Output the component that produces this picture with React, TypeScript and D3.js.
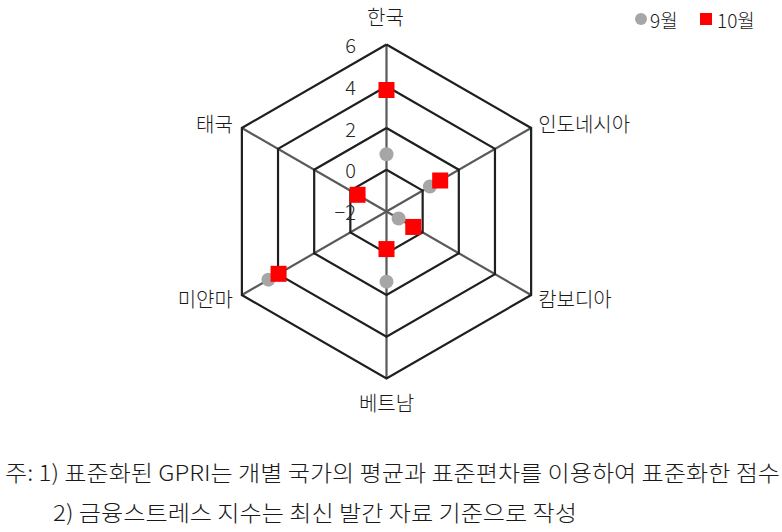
import * as d3 from 'd3';

// ─── Data ───────────────────────────────────────────────────
const countries = ['한국', '인도네시아', '캄보디아', '베트남', '미얀마', '태국'];
const sepValues = [0.74, 0.4, -1.33, 1.36, 4.53, -0.42];
const octValues = [3.82, 0.97, -0.52, -0.2, 3.97, -0.4];
const radialTicks = [-2, 0, 2, 4, 6];
const seriesNames = ['9월', '10월'];
const footnotes = [
  '주: 1) 표준화된 GPRI는 개별 국가의 평균과 표준편차를 이용하여 표준화한 점수',
  '2) 금융스트레스 지수는 최신 발간 자료 기준으로 작성',
];

// ─── Component ──────────────────────────────────────────────
export default function App() {
  const width = 782;
  const height = 532;
  const cx = 386.5;
  const cy = 211.5;
  const font = '"Noto Sans CJK KR", "Noto Sans", sans-serif';

  const r = d3.scaleLinear().domain([-2, 6]).range([0, 167]);
  const angle = d3.scaleLinear().domain([0, countries.length]).range([0, 2 * Math.PI]);

  const pt = (i: number, v: number): [number, number] => {
    const a = angle(i);
    return [cx + r(v) * Math.sin(a), cy - r(v) * Math.cos(a)];
  };

  const ringPath = (v: number) =>
    d3.line()(countries.map((_, i) => pt(i, v)).concat([pt(0, v)])) || '';

  // label placement per axis
  const labelPos = countries.map((_, i) => {
    const [x, y] = pt(i, 6);
    if (i === 0) return { x: x - 1, y: y - 28, anchor: 'middle' };
    if (i === 3) return { x, y: y + 24, anchor: 'middle' };
    if (i === 1) return { x: x + 7, y: y - 5, anchor: 'start' };
    if (i === 2) return { x: x + 7, y: y + 3, anchor: 'start' };
    if (i === 4) return { x: x - 9, y: y + 3, anchor: 'end' };
    return { x: x - 9, y: y - 5, anchor: 'end' };
  });

  return (
    <svg
      width={width}
      height={height}
      style={{ position: 'absolute', left: 0, top: 0, background: '#fff' }}
      fontFamily={font}
      fontWeight={300}
    >
      {/* spokes */}
      {countries.map((c, i) => {
        const [x2, y2] = pt(i, 6);
        return <line key={c} x1={cx} y1={cy} x2={x2} y2={y2} stroke="#595959" strokeWidth={2.2} />;
      })}

      {/* rings */}
      {radialTicks.slice(1).map((t) => (
        <path key={t} d={ringPath(t)} fill="none" stroke="#1f1f1f" strokeWidth={2.2} />
      ))}

      {/* radial tick labels */}
      {radialTicks.map((t) => (
        <text
          key={t}
          x={356}
          y={cy - r(t)}
          textAnchor="end"
          dominantBaseline="central"
          fontSize={20}
          fill="#262626"
        >
          {t < 0 ? `−${Math.abs(t)}` : t}
        </text>
      ))}

      {/* category labels */}
      {countries.map((c, i) => (
        <text
          key={c}
          x={labelPos[i].x}
          y={labelPos[i].y}
          textAnchor={labelPos[i].anchor as any}
          dominantBaseline="central"
          fontSize={20}
          fill="#1a1a1a"
        >
          {c}
        </text>
      ))}

      {/* 9월 series */}
      {sepValues.map((v, i) => {
        const [x, y] = pt(i, v);
        return <circle key={i} cx={x} cy={y} r={7} fill="#a6a6a6" />;
      })}

      {/* 10월 series */}
      {octValues.map((v, i) => {
        const [x, y] = pt(i, v);
        return <rect key={i} x={x - 8} y={y - 8} width={16} height={16} fill="#ff0000" />;
      })}

      {/* legend */}
      <circle cx={641} cy={19} r={6} fill="#a6a6a6" />
      <text x={650} y={19} dominantBaseline="central" fontSize={19} fill="#1a1a1a">
        {seriesNames[0]}
      </text>
      <rect x={700} y={13} width={12} height={12} fill="#ff0000" />
      <text x={717} y={19} dominantBaseline="central" fontSize={19} fill="#1a1a1a">
        {seriesNames[1]}
      </text>

      {/* footnotes */}
      <text x={5} y={481} fontSize={22} fill="#1a1a1a" textLength={775} lengthAdjust="spacingAndGlyphs">
        {footnotes[0]}
      </text>
      <text x={53} y={521} fontSize={22} fill="#1a1a1a" textLength={524} lengthAdjust="spacingAndGlyphs">
        {footnotes[1]}
      </text>
    </svg>
  );
}
